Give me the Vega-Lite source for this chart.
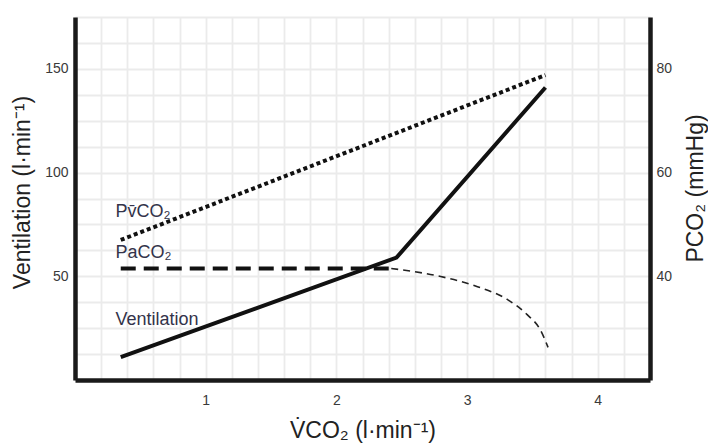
{
  "$schema": "https://vega.github.io/schema/vega-lite/v6.json",
  "autosize": {"type": "none"},
  "padding": {"left": 75, "top": 17, "right": 58, "bottom": 67},
  "width": 575,
  "height": 363,
  "background": "white",
  "config": {
    "view": {"stroke": null},
    "axis": {"labelFont": "Liberation Sans", "titleFont": "Liberation Sans", "labelColor": "#3a3a3a", "titleColor": "#222222", "labelFontSize": 14, "titleFontSize": 23, "titleFontWeight": "normal", "ticks": false, "domainColor": "#1a1a1a", "domainWidth": 4.5, "gridColor": "#ebebeb", "gridWidth": 1.8}
  },
  "datasets": {
    "vent": [{"x": 0.35, "v": 11}, {"x": 2.46, "v": 59}, {"x": 3.6, "v": 141}],
    "labels": [{"x": 0.31, "v": 81, "t": "Pv̄CO₂"}, {"x": 0.31, "v": 61, "t": "PaCO₂"}, {"x": 0.31, "v": 29, "t": "Ventilation"}],
    "pvco2": [{"x": 0.35, "p": 47}, {"x": 3.6, "p": 78.8}],
    "paco2": [{"x": 0.35, "p": 41.5}, {"x": 2.42, "p": 41.5}],
    "paco2fall": [{"x": 2.42, "p": 41.5}, {"x": 2.79, "p": 40.0}, {"x": 3.08, "p": 38.0}, {"x": 3.31, "p": 35.5}, {"x": 3.46, "p": 32.6}, {"x": 3.56, "p": 29.7}, {"x": 3.62, "p": 26.3}]
  },
  "layer": [
    {
      "layer": [
        {
          "data": {"name": "vent"},
          "mark": {"type": "line", "color": "#111111", "strokeWidth": 4},
          "encoding": {
            "x": {"field": "x", "type": "quantitative", "scale": {"domain": [0, 4.4], "nice": false, "zero": false},
              "axis": {"title": "V̇CO₂ (l·min⁻¹)", "tickCount": 60, "values": [0, 0.2, 0.4, 0.6, 0.8, 1, 1.2, 1.4, 1.6, 1.8, 2, 2.2, 2.4, 2.6, 2.8, 3, 3.2, 3.4, 3.6, 3.8, 4, 4.2, 4.4], "labelExpr": "(datum.value == 1 || datum.value == 2 || datum.value == 3 || datum.value == 4) ? format(datum.value, 'd') : ''", "labelOverlap": false, "labelPadding": 13, "titlePadding": 12, "grid": true}},
            "y": {"field": "v", "type": "quantitative", "scale": {"domain": [0, 175], "nice": false, "zero": false},
              "axis": {"title": "Ventilation (l·min⁻¹)", "orient": "left", "titleX": -53, "titleY": 175, "titleBaseline": "middle", "tickCount": 60, "values": [0, 12.5, 25, 37.5, 50, 62.5, 75, 87.5, 100, 112.5, 125, 137.5, 150, 162.5, 175], "labelExpr": "(datum.value == 50 || datum.value == 100 || datum.value == 150) ? datum.label : ''", "labelOverlap": false, "labelPadding": 7, "grid": true}}
          }
        },
        {
          "data": {"name": "labels"},
          "mark": {"type": "text", "align": "left", "baseline": "middle", "font": "Liberation Sans", "fontSize": 18, "color": "#33334a"},
          "encoding": {
            "x": {"field": "x", "type": "quantitative"},
            "y": {"field": "v", "type": "quantitative"},
            "text": {"field": "t"}
          }
        }
      ]
    },
    {
      "layer": [
        {
          "data": {"name": "pvco2"},
          "mark": {"type": "line", "color": "#111111", "strokeWidth": 4, "strokeDash": [4, 3], "strokeCap": "butt"},
          "encoding": {
            "x": {"field": "x", "type": "quantitative"},
            "y": {"field": "p", "type": "quantitative", "scale": {"domain": [20, 90], "nice": false, "zero": false},
              "axis": {"title": "PCO₂ (mmHg)", "orient": "right", "titleAngle": 270, "titleX": 45, "titleY": 171, "titleBaseline": "middle", "values": [40, 60, 80], "labelPadding": 6, "grid": false}}
          }
        },
        {
          "data": {"name": "paco2"},
          "mark": {"type": "line", "color": "#111111", "strokeWidth": 4, "strokeDash": [15, 8], "strokeCap": "butt"},
          "encoding": {
            "x": {"field": "x", "type": "quantitative"},
            "y": {"field": "p", "type": "quantitative"}
          }
        },
        {
          "data": {"name": "paco2fall"},
          "mark": {"type": "line", "color": "#222222", "strokeWidth": 1.6, "strokeDash": [7, 5], "interpolate": "monotone"},
          "encoding": {
            "x": {"field": "x", "type": "quantitative"},
            "y": {"field": "p", "type": "quantitative"}
          }
        }
      ]
    }
  ],
  "resolve": {"scale": {"y": "independent"}, "axis": {"y": "independent"}}
}
